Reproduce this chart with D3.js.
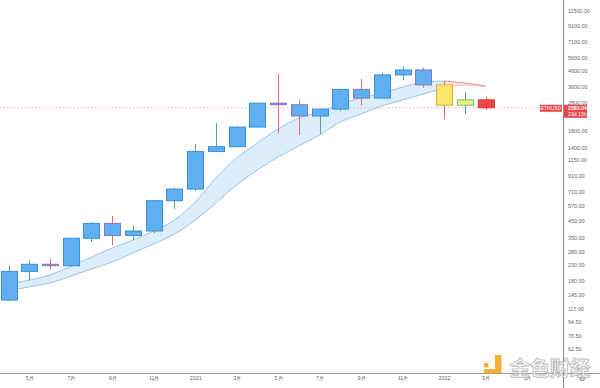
<!DOCTYPE html>
<meta charset="utf-8">
<style>

body {
  margin: 0;
  background: #fff;
}

text {
  font-family: "Liberation Sans", Arial, sans-serif;
}

.tick text {
  fill: #666;
  font-size: 5.4px;
}

</style>
<body>
  <div class='canvas'></div>
</body>
<script src="https://cdn.jsdelivr.net/npm/d3@7"></script>
<script>

// monthly ETHUSD candles, Apr 2020 .. Mar 2022
var months = ["2020-04","2020-05","2020-06","2020-07","2020-08","2020-09","2020-10","2020-11","2020-12",
              "2021-01","2021-02","2021-03","2021-04","2021-05","2021-06","2021-07","2021-08","2021-09",
              "2021-10","2021-11","2021-12","2022-01","2022-02","2022-03"];
var opens  = [133, 207, 231, 226, 345, 434, 360, 386, 616, 737, 1315, 1417, 1919, 2773, 2707, 2275, 2530, 3430, 3000, 4290, 4630, 3680, 2690, 2920];
var highs  = [227, 246, 252, 346, 443, 488, 420, 623, 755, 1475, 2040, 1943, 2797, 4380, 2910, 2550, 3470, 4030, 4460, 4870, 4780, 3900, 3290, 3060];
var lows   = [130, 180, 215, 222, 326, 310, 336, 373, 541, 714, 1300, 1410, 1900, 1735, 1700, 1720, 2450, 2680, 2970, 3960, 3520, 2170, 2340, 2500];
var closes = [207, 231, 226, 345, 434, 360, 386, 616, 737, 1315, 1417, 1919, 2773, 2707, 2275, 2530, 3430, 3000, 4290, 4630, 3680, 2690, 2920, 2583];

// ribbon (two moving averages)
var bandUpper = [170, 181, 196, 225, 258, 297, 336, 386, 457, 603, 874, 1189, 1500, 1862, 2206, 2420, 2738, 3003, 3245, 3558, 3843, 3905, 3786, 3616];
var bandLower = [153, 163, 173, 192, 215, 239, 275, 316, 368, 457, 594, 785, 989, 1209, 1432, 1696, 2074, 2346, 2655, 2913, 3195, 3505, 3671, 3587];

var priceTicks = [62.5, 76.5, 94.5, 117, 145, 180, 230, 280, 350, 450, 570, 710, 910, 1150, 1400, 1800, 2800, 3600, 4600, 5600, 7100, 9100, 11500];
var monthTicks = [1, 3, 5, 7, 9, 11, 13, 15, 17, 19, 21, 23, 25];
var monthLabels = ["5月","7月","9月","11月","2021","3月","5月","7月","9月","11月","2022","3月","5月"];

var symbol = "ETHUSD",
    lastPrice = 2583.04,
    countdown = "23d 15h";

var w = 600,
    h = 388,
    axisX = 563,
    axisY = 373;

var svg = d3.select(".canvas").append("svg")
    .attr("width", w)
    .attr("height", h);

var x = d3.scaleLinear().domain([0, 23]).range([8.5, 485.5]);
var y = d3.scaleLog().domain([62.5, 11500]).range([349, 11]);

var bodyW = 16;

// colours for the 2022 bars, the rest are plain blue
var special = {
  "2022-01": {fill: "#fde86c", stroke: "#f0a33a", wick: "#e46a78"},
  "2022-02": {fill: "#eef37e", stroke: "#6cbf73", wick: "#4fa6a0"},
  "2022-03": {fill: "#ef4747", stroke: "#d93636", wick: "#e4566a"}
};

function style(i) {
  if (special[months[i]]) return special[months[i]];
  var up = closes[i] >= opens[i];
  return {
    fill: "#5eb0f2",
    stroke: up ? "#3b8fd2" : "#8d72b8",
    wick: up ? "#4fa6a0" : "#e46a78"
  };
}

// ribbon
var idx = d3.range(months.length);
var split = 21;

var area = d3.area()
    .x(function(i) { return x(i); })
    .y0(function(i) { return y(bandLower[i]); })
    .y1(function(i) { return y(bandUpper[i]); })
    .curve(d3.curveMonotoneX);

var lineU = d3.line().x(function(i) { return x(i); }).y(function(i) { return y(bandUpper[i]); }).curve(d3.curveMonotoneX);
var lineL = d3.line().x(function(i) { return x(i); }).y(function(i) { return y(bandLower[i]); }).curve(d3.curveMonotoneX);

var blueIdx = idx.filter(function(i) { return i <= split; }),
    redIdx = idx.filter(function(i) { return i >= split; });

svg.append("path").attr("d", area(blueIdx)).style("fill", "#dcedfb");
svg.append("path").attr("d", area(redIdx)).style("fill", "#fbe6e8");
svg.append("path").attr("d", lineU(blueIdx)).style("fill", "none").style("stroke", "#86b6e2").style("stroke-width", 0.8);
svg.append("path").attr("d", lineL(blueIdx)).style("fill", "none").style("stroke", "#86b6e2").style("stroke-width", 0.8);
svg.append("path").attr("d", lineL(redIdx)).style("fill", "none").style("stroke", "#f2b4bc").style("stroke-width", 0.8);
svg.append("path").attr("d", lineU(redIdx)).style("fill", "none").style("stroke", "#e27580").style("stroke-width", 0.8);

// last price line
svg.append("line")
    .attr("x1", 0).attr("x2", 540)
    .attr("y1", y(lastPrice)).attr("y2", y(lastPrice))
    .style("stroke", "#f2a3a8")
    .style("stroke-width", 0.8)
    .style("stroke-dasharray", "1.5,2");

// candles
var candle = svg.selectAll("g.candle")
    .data(idx)
  .enter().append("g")
    .attr("class", "candle");

candle.append("line")
    .attr("x1", function(i) { return Math.round(x(i)) + 0.5; })
    .attr("x2", function(i) { return Math.round(x(i)) + 0.5; })
    .attr("y1", function(i) { return y(highs[i]); })
    .attr("y2", function(i) { return y(lows[i]); })
    .style("stroke", function(i) { return style(i).wick; })
    .style("stroke-width", 1);

candle.append("rect")
    .attr("x", function(i) { return Math.round(x(i)) - bodyW / 2 + 0.5; })
    .attr("width", bodyW)
    .attr("y", function(i) { return y(Math.max(opens[i], closes[i])); })
    .attr("height", function(i) { return Math.max(1, y(Math.min(opens[i], closes[i])) - y(Math.max(opens[i], closes[i]))); })
    .style("fill", function(i) { return style(i).fill; })
    .style("stroke", function(i) { return style(i).stroke; })
    .style("stroke-width", 1);

// axes
svg.append("line")
    .attr("x1", axisX + 0.5).attr("x2", axisX + 0.5)
    .attr("y1", 0).attr("y2", h)
    .style("stroke", "#8a8a8a").style("stroke-width", 1);

svg.append("line")
    .attr("x1", 0).attr("x2", w)
    .attr("y1", axisY + 0.5).attr("y2", axisY + 0.5)
    .style("stroke", "#9a9a9a").style("stroke-width", 1);

var yAxis = svg.append("g")
    .attr("transform", "translate(" + axisX + ",0)")
    .call(d3.axisRight(y).tickValues(priceTicks).tickSize(0).tickPadding(5)
      .tickFormat(function(d) { return d.toFixed(2); }));
yAxis.select(".domain").remove();

var xAxis = svg.append("g")
    .attr("transform", "translate(0," + axisY + ")")
    .call(d3.axisBottom(x).tickValues(monthTicks).tickSize(0).tickPadding(3)
      .tickFormat(function(d, i) { return monthLabels[i]; }));
xAxis.select(".domain").remove();

// price tags
var py = y(lastPrice);

svg.append("rect")
    .attr("x", 540).attr("y", py - 3).attr("width", 22).attr("height", 7)
    .style("fill", "#e8474c");
svg.append("text")
    .attr("x", 551).attr("y", py + 2.3)
    .attr("text-anchor", "middle")
    .style("fill", "#fff").style("font-size", "5px")
    .text(symbol);

svg.append("rect")
    .attr("x", axisX + 1).attr("y", py - 3).attr("width", 23).attr("height", 13)
    .style("fill", "#e8474c");
svg.append("text")
    .attr("x", axisX + 5).attr("y", py + 2.3)
    .style("fill", "#fff").style("font-size", "5.2px").style("font-weight", "bold")
    .text(lastPrice.toFixed(2));
svg.append("text")
    .attr("x", axisX + 5).attr("y", py + 8)
    .style("fill", "#fff").style("font-size", "5.2px")
    .text(countdown);

// settings gear
svg.append("text")
    .attr("x", 582).attr("y", 381)
    .attr("text-anchor", "middle")
    .style("fill", "#555").style("font-size", "8px")
    .style("font-family", "DejaVu Sans")
    .text("\u2699");

// watermark
var wm = svg.append("g").style("opacity", 0.9);
wm.append("rect").attr("x", 484).attr("y", 363).attr("width", 4.5).attr("height", 4.5).style("fill", "#f5a623");
wm.append("path")
    .attr("d", "M495,355 L501.5,355 L501.5,373.5 L484,373.5 L484,369 L495,369 Z")
    .style("fill", "#f5a623");
wm.append("text")
    .attr("x", 510).attr("y", 376)
    .style("font-family", "'Noto Sans CJK SC'")
    .style("font-size", "20px")
    .style("font-weight", "bold")
    .style("fill", "#fff")
    .style("fill-opacity", 0.85)
    .style("stroke", "#b5b5b5")
    .style("stroke-width", 0.9)
    .text("金色财经");

</script>
